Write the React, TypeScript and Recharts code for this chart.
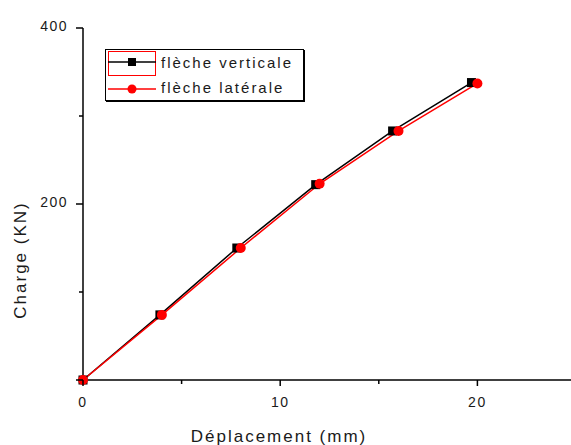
import { CartesianGrid, Label, Legend, Line, LineChart, XAxis, YAxis } from "recharts";

// load test: deflection (mm) vs load (kN)
const verticalDisp = [0, 3.9, 7.8, 11.8, 15.7, 19.7];
const verticalLoad = [0, 74, 150, 222, 283, 338];
const lateralDisp = [0, 4, 8, 12, 16, 20];
const lateralLoad = [0, 74, 150, 223, 283, 337];

const xTicks = [0, 5, 10, 15, 20, 25];
const yTicks = [0, 100, 200, 300, 400];
const xLabelled = [0, 10, 20];
const yLabelled = [200, 400];

const verticalData = verticalDisp.map((x, i) => ({ x, y: verticalLoad[i] }));
const lateralData = lateralDisp.map((x, i) => ({ x, y: lateralLoad[i] }));

const FONT = "'Liberation Sans', Arial, sans-serif";
const INK = "#1a1a1a";

function XTick({ x, y, payload }: any) {
  const major = xLabelled.includes(payload.value);
  return (
    <g>
      <line x1={x} x2={x} y1={y} y2={y + (major ? 6 : 4)} stroke="#000" strokeWidth={1.5} />
      {major && (
        <text x={x} y={y + 27} textAnchor="middle" fontSize={14} letterSpacing={1.5} fill={INK} fontFamily={FONT}>
          {payload.value}
        </text>
      )}
    </g>
  );
}

function YTick({ x, y, payload }: any) {
  const major = payload.value % 200 === 0;
  return (
    <g>
      <line x1={x - (major ? 7 : 4)} x2={x} y1={y} y2={y} stroke="#000" strokeWidth={1.5} />
      {yLabelled.includes(payload.value) && (
        <text x={x - 15} y={y + 3} textAnchor="end" fontSize={14} letterSpacing={1.5} fill={INK} fontFamily={FONT}>
          {payload.value}
        </text>
      )}
    </g>
  );
}

function SquareDot({ cx, cy, index }: any) {
  return <rect key={`sq-${index}`} x={cx - 4.5} y={cy - 4.5} width={9} height={9} fill="#000" />;
}

function RoundDot({ cx, cy, index }: any) {
  return <circle key={`ci-${index}`} cx={cx} cy={cy} r={5} fill="#ff0000" />;
}

function LegendBox() {
  const text = { fontFamily: FONT, fontSize: 15, letterSpacing: 2, color: INK, lineHeight: "26px" };
  return (
    <div
      style={{
        width: 197,
        height: 50,
        border: "1px solid #000",
        boxShadow: "1px 1px 0 #000",
        background: "#fff",
        boxSizing: "content-box",
      }}
    >
      <div style={{ display: "flex", alignItems: "center", height: 26 }}>
        <svg width={55} height={26}>
          <rect x={2.5} y={1.5} width={47} height={24} fill="none" stroke="#ff0000" strokeWidth={1} />
          <line x1={2} x2={50} y1={12} y2={12} stroke="#000" strokeWidth={1.5} />
          <rect x={22} y={8} width={8} height={8} fill="#000" />
        </svg>
        <span style={text}>flèche verticale</span>
      </div>
      <div style={{ display: "flex", alignItems: "center", height: 24 }}>
        <svg width={55} height={24}>
          <line x1={2} x2={50} y1={13} y2={13} stroke="#ff0000" strokeWidth={1.5} />
          <circle cx={26} cy={13} r={4.5} fill="#ff0000" />
        </svg>
        <span style={text}>flèche latérale</span>
      </div>
    </div>
  );
}

export default function App() {
  return (
    <div
      style={{
        position: "absolute",
        left: 0,
        top: 0,
        width: 571,
        height: 445,
        overflow: "hidden",
        background: "#fff",
      }}
    >
      <LineChart width={600} height={445} margin={{ top: 28, right: 24, bottom: 0, left: 23 }}>
        <CartesianGrid stroke="none" />
        <XAxis
          type="number"
          dataKey="x"
          domain={[0, 25]}
          ticks={xTicks}
          height={65}
          tickSize={0}
          tickMargin={0}
          tickLine={false}
          axisLine={{ stroke: "#000", strokeWidth: 1.5 }}
          tick={<XTick />}
          interval={0}
        >
          <Label
            content={({ viewBox }: any) => (
              <text
                x={viewBox.x + 196}
                y={viewBox.y + 62}
                textAnchor="middle"
                fontSize={17}
                letterSpacing={2}
                fill={INK}
                fontFamily={FONT}
              >
                Déplacement (mm)
              </text>
            )}
          />
        </XAxis>
        <YAxis
          type="number"
          dataKey="y"
          domain={[0, 400]}
          ticks={yTicks}
          width={60}
          tickSize={0}
          tickMargin={0}
          tickLine={false}
          axisLine={{ stroke: "#000", strokeWidth: 1.5 }}
          tick={<YTick />}
          interval={0}
        >
          <Label
            content={({ viewBox }: any) => {
              const cx = 20;
              const cy = viewBox.y + viewBox.height / 2 + 56;
              return (
                <text
                  x={cx}
                  y={cy}
                  transform={`rotate(-90 ${cx} ${cy})`}
                  textAnchor="middle"
                  dominantBaseline="central"
                  fontSize={17}
                  letterSpacing={2}
                  fill={INK}
                  fontFamily={FONT}
                >
                  Charge (KN)
                </text>
              );
            }}
          />
        </YAxis>
        <Legend
          layout="vertical"
          align="center"
          verticalAlign="middle"
          content={() => <LegendBox />}
          wrapperStyle={{ left: 105, top: 49, width: "auto", height: "auto" }}
        />
        <Line
          data={verticalData}
          dataKey="y"
          name="flèche verticale"
          type="linear"
          stroke="#000"
          strokeWidth={1.5}
          dot={<SquareDot />}
          isAnimationActive={false}
        />
        <Line
          data={lateralData}
          dataKey="y"
          name="flèche latérale"
          type="linear"
          stroke="#ff0000"
          strokeWidth={1.5}
          dot={<RoundDot />}
          isAnimationActive={false}
        />
      </LineChart>
    </div>
  );
}
